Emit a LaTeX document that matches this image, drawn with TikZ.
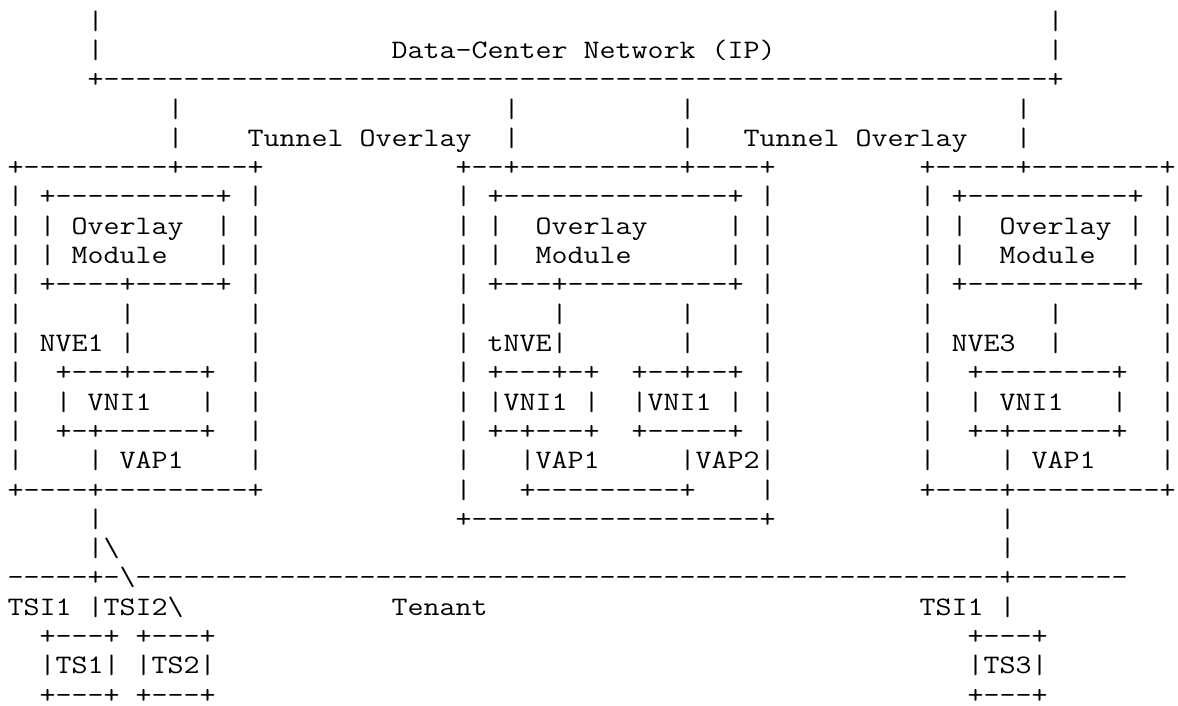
\documentclass[tikz,border=0pt]{standalone}
\usepackage{fontspec}
\usepackage{graphicx}
\ExplSyntaxOn
\cs_new:Npn \myrep #1#2 { \prg_replicate:nn {#1} {#2} }
\ExplSyntaxOff
\newcommand\ascfont{\ttfamily\frenchspacing\fontsize{13.33pt}{14.65pt}\selectfont}
\newlength\chw
\AtBeginDocument{\settowidth\chw{\ascfont 0}\pgfmathsetmacro\xsc{8pt/\chw}}
\tikzset{tok/.style={anchor=base west, inner sep=0pt, outer sep=0pt,
  font=\ascfont, text=black},
  lastrow/.style={text depth=0pt}}
% token at (column, row) of the character grid; glyphs widened to an 8pt pitch
\newcommand\asc[3]{\node[tok] (n#2c#1) at ({3.85+8*#1},{-(14.6+14.65*#2)}) {\scalebox{\xsc}[1]{#3}};}
\newcommand\ascb[3]{\node[tok,lastrow] (n#2c#1) at ({3.85+8*#1},{-(14.6+14.65*#2)}) {\scalebox{\xsc}[1]{#3}};}
\begin{document}
\begin{tikzpicture}[x=1pt,y=1pt]
\useasboundingbox (0,0) rectangle (589,-353);
% row 0-4: Data-Center Network
\asc{5}{0}{|} \asc{65}{0}{|}
\asc{5}{1}{|} \asc{24}{1}{Data-Center Network (IP)} \asc{65}{1}{|}
\asc{5}{2}{+\myrep{59}{-}+}
\asc{10}{3}{|} \asc{31}{3}{|} \asc{42}{3}{|} \asc{63}{3}{|}
\asc{10}{4}{|} \asc{15}{4}{Tunnel Overlay} \asc{31}{4}{|} \asc{42}{4}{|} \asc{46}{4}{Tunnel Overlay} \asc{63}{4}{|}
% row 5: NVE tops
\asc{0}{5}{+\myrep{9}{-}+\myrep{4}{-}+}
\asc{28}{5}{+\myrep{2}{-}+\myrep{10}{-}+\myrep{4}{-}+}
\asc{57}{5}{+\myrep{5}{-}+\myrep{8}{-}+}
% row 6
\asc{0}{6}{|} \asc{2}{6}{+\myrep{10}{-}+} \asc{15}{6}{|}
\asc{28}{6}{|} \asc{30}{6}{+\myrep{14}{-}+} \asc{47}{6}{|}
\asc{57}{6}{|} \asc{59}{6}{+\myrep{10}{-}+} \asc{72}{6}{|}
% row 7
\asc{0}{7}{|} \asc{2}{7}{|} \asc{4}{7}{Overlay} \asc{13}{7}{|} \asc{15}{7}{|}
\asc{28}{7}{|} \asc{30}{7}{|} \asc{33}{7}{Overlay} \asc{45}{7}{|} \asc{47}{7}{|}
\asc{57}{7}{|} \asc{59}{7}{|} \asc{62}{7}{Overlay} \asc{70}{7}{|} \asc{72}{7}{|}
% row 8
\asc{0}{8}{|} \asc{2}{8}{|} \asc{4}{8}{Module} \asc{13}{8}{|} \asc{15}{8}{|}
\asc{28}{8}{|} \asc{30}{8}{|} \asc{33}{8}{Module} \asc{45}{8}{|} \asc{47}{8}{|}
\asc{57}{8}{|} \asc{59}{8}{|} \asc{62}{8}{Module} \asc{70}{8}{|} \asc{72}{8}{|}
% row 9
\asc{0}{9}{|} \asc{2}{9}{+\myrep{4}{-}+\myrep{5}{-}+} \asc{15}{9}{|}
\asc{28}{9}{|} \asc{30}{9}{+\myrep{3}{-}+\myrep{10}{-}+} \asc{47}{9}{|}
\asc{57}{9}{|} \asc{59}{9}{+\myrep{10}{-}+} \asc{72}{9}{|}
% row 10
\asc{0}{10}{|} \asc{7}{10}{|} \asc{15}{10}{|}
\asc{28}{10}{|} \asc{34}{10}{|} \asc{42}{10}{|} \asc{47}{10}{|}
\asc{57}{10}{|} \asc{65}{10}{|} \asc{72}{10}{|}
% row 11
\asc{0}{11}{|} \asc{2}{11}{NVE1} \asc{7}{11}{|} \asc{15}{11}{|}
\asc{28}{11}{|} \asc{30}{11}{tNVE|} \asc{42}{11}{|} \asc{47}{11}{|}
\asc{57}{11}{|} \asc{59}{11}{NVE3} \asc{65}{11}{|} \asc{72}{11}{|}
% row 12
\asc{0}{12}{|} \asc{3}{12}{+\myrep{3}{-}+\myrep{4}{-}+} \asc{15}{12}{|}
\asc{28}{12}{|} \asc{30}{12}{+\myrep{3}{-}+-+} \asc{39}{12}{+\myrep{2}{-}+\myrep{2}{-}+} \asc{47}{12}{|}
\asc{57}{12}{|} \asc{60}{12}{+\myrep{8}{-}+} \asc{72}{12}{|}
% row 13
\asc{0}{13}{|} \asc{3}{13}{|} \asc{5}{13}{VNI1} \asc{12}{13}{|} \asc{15}{13}{|}
\asc{28}{13}{|} \asc{30}{13}{|VNI1} \asc{36}{13}{|} \asc{39}{13}{|VNI1} \asc{45}{13}{|} \asc{47}{13}{|}
\asc{57}{13}{|} \asc{60}{13}{|} \asc{62}{13}{VNI1} \asc{69}{13}{|} \asc{72}{13}{|}
% row 14
\asc{0}{14}{|} \asc{3}{14}{+-+\myrep{6}{-}+} \asc{15}{14}{|}
\asc{28}{14}{|} \asc{30}{14}{+-+\myrep{3}{-}+} \asc{39}{14}{+\myrep{5}{-}+} \asc{47}{14}{|}
\asc{57}{14}{|} \asc{60}{14}{+-+\myrep{6}{-}+} \asc{72}{14}{|}
% row 15
\asc{0}{15}{|} \asc{5}{15}{|} \asc{7}{15}{VAP1} \asc{15}{15}{|}
\asc{28}{15}{|} \asc{32}{15}{|VAP1} \asc{42}{15}{|VAP2|}
\asc{57}{15}{|} \asc{62}{15}{|} \asc{64}{15}{VAP1} \asc{72}{15}{|}
% row 16
\asc{0}{16}{+\myrep{4}{-}+\myrep{9}{-}+}
\asc{28}{16}{|} \asc{32}{16}{+\myrep{9}{-}+} \asc{47}{16}{|}
\asc{57}{16}{+\myrep{4}{-}+\myrep{9}{-}+}
% row 17-18
\asc{5}{17}{|} \asc{28}{17}{+\myrep{18}{-}+} \asc{62}{17}{|}
\asc{5}{18}{|\textbackslash} \asc{62}{18}{|}
% row 19: tenant line
\asc{0}{19}{\myrep{5}{-}+-\textbackslash\myrep{54}{-}+\myrep{7}{-}}
% row 20
\asc{0}{20}{TSI1} \asc{5}{20}{|TSI2\textbackslash} \asc{24}{20}{Tenant} \asc{57}{20}{TSI1} \asc{62}{20}{|}
% row 21-23: tenant systems
\asc{2}{21}{+\myrep{3}{-}+} \asc{8}{21}{+\myrep{3}{-}+} \asc{60}{21}{+\myrep{3}{-}+}
\asc{2}{22}{|TS1|} \asc{8}{22}{|TS2|} \asc{60}{22}{|TS3|}
\ascb{2}{23}{+\myrep{3}{-}+} \ascb{8}{23}{+\myrep{3}{-}+} \ascb{60}{23}{+\myrep{3}{-}+}
\end{tikzpicture}
\end{document}
